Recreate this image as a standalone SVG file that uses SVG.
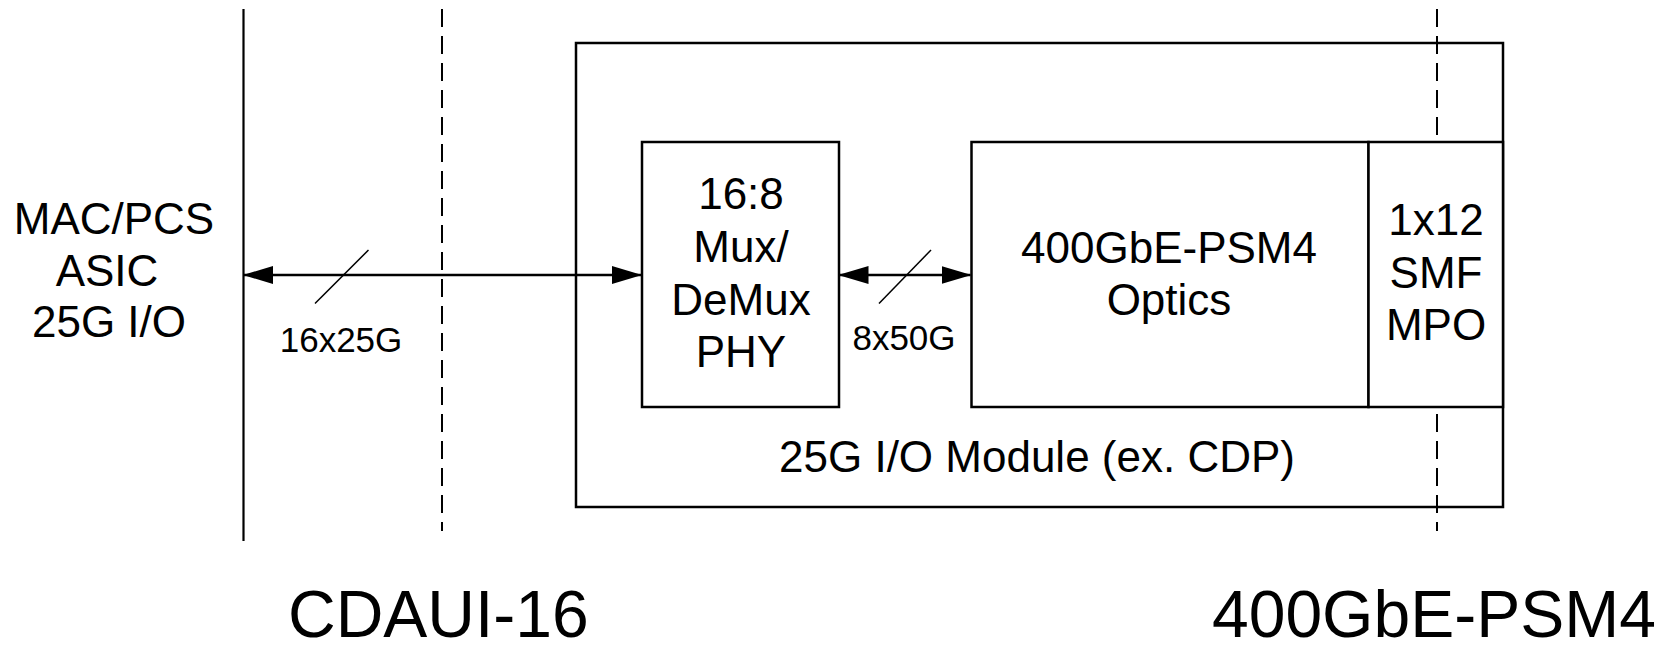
<svg xmlns="http://www.w3.org/2000/svg" width="1675" height="651" viewBox="0 0 1675 651">
  <style>
    .box { fill: #fff; stroke: #000; stroke-width: 2.5; }
    .frame { fill: none; stroke: #000; stroke-width: 2.5; }
    .rule { stroke: #000; stroke-width: 2.2; fill: none; }
    .dash { stroke: #000; stroke-width: 2; stroke-dasharray: 18 9; fill: none; }
    .link { stroke: #000; stroke-width: 2.6; fill: none; }
    .slash { stroke: #000; stroke-width: 1.5; fill: none; }
    text { font-family: "Liberation Sans", Arial, sans-serif; fill: #000; }
    .lbl { font-size: 44px; text-anchor: middle; }
    .small { font-size: 35px; text-anchor: middle; }
    .big { font-size: 66px; }
  </style>
  <defs>
    <marker id="head" viewBox="0 0 30 18" markerWidth="30" markerHeight="18" refX="29" refY="9" orient="auto-start-reverse" markerUnits="userSpaceOnUse">
      <path d="M0,0 L30,9 L0,18 z" fill="#000"/>
    </marker>
  </defs>

  <!-- host side: MAC/PCS ASIC -->
  <g id="asic">
    <text class="lbl" x="114" y="234">MAC/PCS</text>
    <text class="lbl" x="107" y="286">ASIC</text>
    <text class="lbl" x="109" y="337">25G I/O</text>
  </g>

  <!-- ASIC boundary -->
  <g id="asic-edge">
    <line class="rule" x1="243.5" y1="9" x2="243.5" y2="541"/>
  </g>

  <!-- CDAUI-16 reference plane -->
  <g id="cdaui-plane">
    <line class="dash" x1="442" y1="9" x2="442" y2="531"/>
  </g>

  <!-- pluggable module -->
  <g id="module">
    <rect class="frame" x="576" y="43" width="927" height="464"/>
    <text class="lbl" x="1037" y="472">25G I/O Module (ex. CDP)</text>
  </g>

  <!-- PSM4 reference plane (hidden behind the connector block) -->
  <g id="psm4-plane">
    <line class="dash" x1="1437" y1="9" x2="1437" y2="531"/>
  </g>

  <g id="mux">
    <rect class="box" x="642" y="142" width="197" height="265"/>
    <text class="lbl" x="741" y="209">16:8</text>
    <text class="lbl" x="741" y="262">Mux/</text>
    <text class="lbl" x="741" y="315">DeMux</text>
    <text class="lbl" x="741" y="367">PHY</text>
  </g>

  <g id="optics">
    <rect class="box" x="971.5" y="142" width="397" height="265"/>
    <text class="lbl" x="1169" y="263">400GbE-PSM4</text>
    <text class="lbl" x="1169" y="315">Optics</text>
  </g>

  <g id="mpo">
    <rect class="box" x="1368.5" y="142" width="134.5" height="265"/>
    <text class="lbl" x="1436" y="235">1x12</text>
    <text class="lbl" x="1436" y="288">SMF</text>
    <text class="lbl" x="1436" y="340">MPO</text>
  </g>

  <!-- connectors -->
  <g id="connectors">
    <line class="link" x1="244" y1="275" x2="641" y2="275" marker-start="url(#head)" marker-end="url(#head)"/>
    <line class="slash" x1="315" y1="303.5" x2="368.5" y2="250"/>
    <text class="small" x="341" y="352">16x25G</text>

    <line class="link" x1="839.5" y1="275" x2="970.5" y2="275" marker-start="url(#head)" marker-end="url(#head)"/>
    <line class="slash" x1="879" y1="303.5" x2="931" y2="250"/>
    <text class="small" x="904" y="350">8x50G</text>
  </g>

  <!-- interface names -->
  <g id="interface-names">
    <text class="big" x="288" y="637">CDAUI-16</text>
    <text class="big" x="1212" y="637">400GbE-PSM4</text>
  </g>
</svg>
